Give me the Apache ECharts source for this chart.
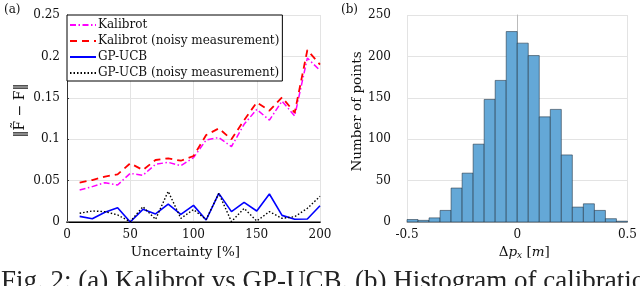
<!DOCTYPE html>
<html><head><meta charset="utf-8">
<script src="https://cdn.jsdelivr.net/npm/echarts@6/dist/echarts.min.js"></script>
<style>html,body{margin:0;padding:0;background:#fff}#c{width:640px;height:286px}</style>
</head><body><div id="c"></div>
<script>
var uncertainty = [10,20,30,40,50,60,70,80,90,100,110,120,130,140,150,160,170,180,190,200];
var kalibrot = [0.0386,0.0427,0.0475,0.0447,0.0588,0.0564,0.0697,0.0721,0.068,0.0777,0.099,0.102,0.091,0.118,0.136,0.123,0.146,0.128,0.198,0.183];
var kalibrotNoisy = [0.0475,0.0507,0.0548,0.0576,0.0709,0.0628,0.0749,0.0769,0.074,0.0797,0.105,0.113,0.0998,0.123,0.1445,0.1345,0.1506,0.132,0.2077,0.19];
var gpucb = [0.0068,0.004,0.0117,0.0173,0.0,0.0153,0.0097,0.0217,0.0093,0.0201,0.0024,0.0346,0.0125,0.0237,0.0133,0.0338,0.008,0.0033,0.0036,0.0197];
var gpucbNoisy = [0.0105,0.0133,0.0125,0.0085,0.0004,0.0185,0.0032,0.037,0.0044,0.015,0.003,0.0346,0.0004,0.0165,0.0012,0.0125,0.0044,0.0064,0.0165,0.031];
var seriesNames = ['Kalibrot','Kalibrot (noisy measurement)','GP-UCB','GP-UCB (noisy measurement)'];
var histEdges = [-0.5,-0.45,-0.4,-0.35,-0.3,-0.25,-0.2,-0.15,-0.1,-0.05,0,0.05,0.1,0.15,0.2,0.25,0.3,0.35,0.4,0.45,0.5];
var histCounts = [3,2,5,14,41,59,94,148,171,230,216,201,127,136,81,18,22,14,4,1];
var caption = 'Fig. 2: (a) Kalibrot vs GP-UCB. (b) Histogram of calibration';

function pairs(xs, ys){ return xs.map(function(x,i){ return [x, ys[i]]; }); }
var histData = histCounts.map(function(c,i){ return [histEdges[i], histEdges[i+1], c]; });

var F = 'DejaVu Serif';
var grid = '#e3e3e3';
var chart = echarts.init(document.getElementById('c'), null, {renderer:'canvas'});
chart.setOption({
  animation:false,
  textStyle:{fontFamily:F},
  grid:[
    {left:67, right:320, top:15, bottom:64},
    {left:407, right:10, top:15, bottom:64}
  ],
  legend:{
    orient:'vertical', left:67, top:15, data:seriesNames,
    backgroundColor:'#fff', borderColor:'#000', borderWidth:1, borderRadius:0,
    padding:[4,3,2,2], itemGap:4, itemWidth:26, itemHeight:12,
    itemStyle:{opacity:0},
    textStyle:{fontFamily:F, fontSize:12, color:'#111', lineHeight:12, padding:[0,0,0,-3]}
  },
  xAxis:[
    {gridIndex:0, type:'value', min:0, max:200, interval:50,
     name:'Uncertainty [%]', nameLocation:'middle', nameGap:22,
     nameTextStyle:{fontFamily:F, fontSize:13.5, color:'#111', padding:[0,16,0,0]},
     axisLine:{onZero:false, lineStyle:{color:'#777', width:2}}, axisTick:{show:false},
     axisLabel:{fontFamily:F, fontSize:12, color:'#111', margin:7},
     splitLine:{show:true, lineStyle:{color:grid}}},
    {gridIndex:0, type:'value', min:0, max:200, position:'top',
     axisLine:{show:true, lineStyle:{color:'#000', width:1}}, axisTick:{show:false}, axisLabel:{show:false}, splitLine:{show:false}},
    {gridIndex:1, type:'value', min:-0.5, max:0.5, interval:0.5,
     name:'{n|Δ}{i|p}{s|x}{n| [}{i|m}{n|]}', nameLocation:'middle', nameGap:22,
     nameTextStyle:{padding:[0,0,0,14], rich:{
       n:{fontFamily:F, fontSize:13.5, color:'#111'},
       i:{fontFamily:F, fontSize:13.5, fontStyle:'italic', color:'#111'},
       s:{fontFamily:F, fontSize:9, fontStyle:'italic', color:'#111', verticalAlign:'bottom', padding:[6,0,0,0]}}},
     axisLine:{onZero:false, lineStyle:{color:'#bbb', width:1}}, axisTick:{show:false},
     axisLabel:{fontFamily:F, fontSize:12, color:'#111', margin:7},
     splitLine:{show:true, lineStyle:{color:grid}}}
  ],
  yAxis:[
    {gridIndex:0, type:'value', min:0, max:0.25, interval:0.05,
     name:'‖F̃ − F‖', nameLocation:'middle', nameGap:40,
     nameTextStyle:{fontFamily:F, fontSize:14, color:'#111', padding:[0,0,0,16]},
     axisLine:{show:false}, axisTick:{show:true, inside:true, length:2, lineStyle:{color:'#333'}},
     axisLabel:{fontFamily:F, fontSize:12, color:'#111', margin:7,
       formatter:function(v){ return v===0?'0':String(+v.toFixed(2)); }},
     splitLine:{show:true, lineStyle:{color:grid}}},
    {gridIndex:0, type:'value', min:0, max:0.25, position:'right',
     axisLine:{show:true, lineStyle:{color:'#333', width:1}}, axisTick:{show:false}, axisLabel:{show:false}, splitLine:{show:false}},
    {gridIndex:1, type:'value', min:0, max:250, interval:50,
     name:'Number of points', nameLocation:'middle', nameGap:38,
     nameTextStyle:{fontFamily:F, fontSize:13.5, color:'#111', padding:[0,0,0,14]},
     axisLine:{show:true, lineStyle:{color:'#bbb'}}, axisTick:{show:false},
     axisLabel:{fontFamily:F, fontSize:12, color:'#111', margin:16},
     splitLine:{show:true, lineStyle:{color:grid}}}
  ],
  series:[
    {name:seriesNames[0], type:'line', xAxisIndex:0, yAxisIndex:0, data:pairs(uncertainty,kalibrot), symbol:'none', z:3,
     color:'#ff00ff', lineStyle:{color:'#ff00ff', width:1.5, type:[6,2.5,1.5,2.5]}},
    {name:seriesNames[1], type:'line', xAxisIndex:0, yAxisIndex:0, data:pairs(uncertainty,kalibrotNoisy), symbol:'none', z:3,
     color:'#ff0000', lineStyle:{color:'#ff0000', width:1.8, type:[7,5]}},
    {name:seriesNames[2], type:'line', xAxisIndex:0, yAxisIndex:0, data:pairs(uncertainty,gpucb), symbol:'none', z:3,
     color:'#0000ff', lineStyle:{color:'#0000ff', width:1.6, type:'solid'}},
    {name:seriesNames[3], type:'line', xAxisIndex:0, yAxisIndex:0, data:pairs(uncertainty,gpucbNoisy), symbol:'none', z:3,
     color:'#000000', lineStyle:{color:'#000000', width:1.4, type:[1.5,2]}},
    {name:'hist', type:'custom', xAxisIndex:2, yAxisIndex:2, data:histData, encode:{x:[0,1], y:2},
     renderItem:function(params, api){
       var p0 = api.coord([api.value(0), api.value(2)]);
       var p1 = api.coord([api.value(1), 0]);
       return {type:'rect', shape:{x:p0[0], y:p0[1], width:p1[0]-p0[0], height:p1[1]-p0[1]},
         style:{fill:'#64a8d7', stroke:'rgba(30,45,60,0.55)', lineWidth:1}};
     }}
  ],
  graphic:[
    {type:'text', left:4, top:4, style:{text:'(a)', font:'12px "DejaVu Serif"', fill:'#111'}},
    {type:'text', left:341, top:4, style:{text:'(b)', font:'12px "DejaVu Serif"', fill:'#111'}},
    {type:'text', left:1, top:268, style:{text:caption, font:'27px "Liberation Serif"', fill:'#222'}}
  ]
});
</script></body></html>
